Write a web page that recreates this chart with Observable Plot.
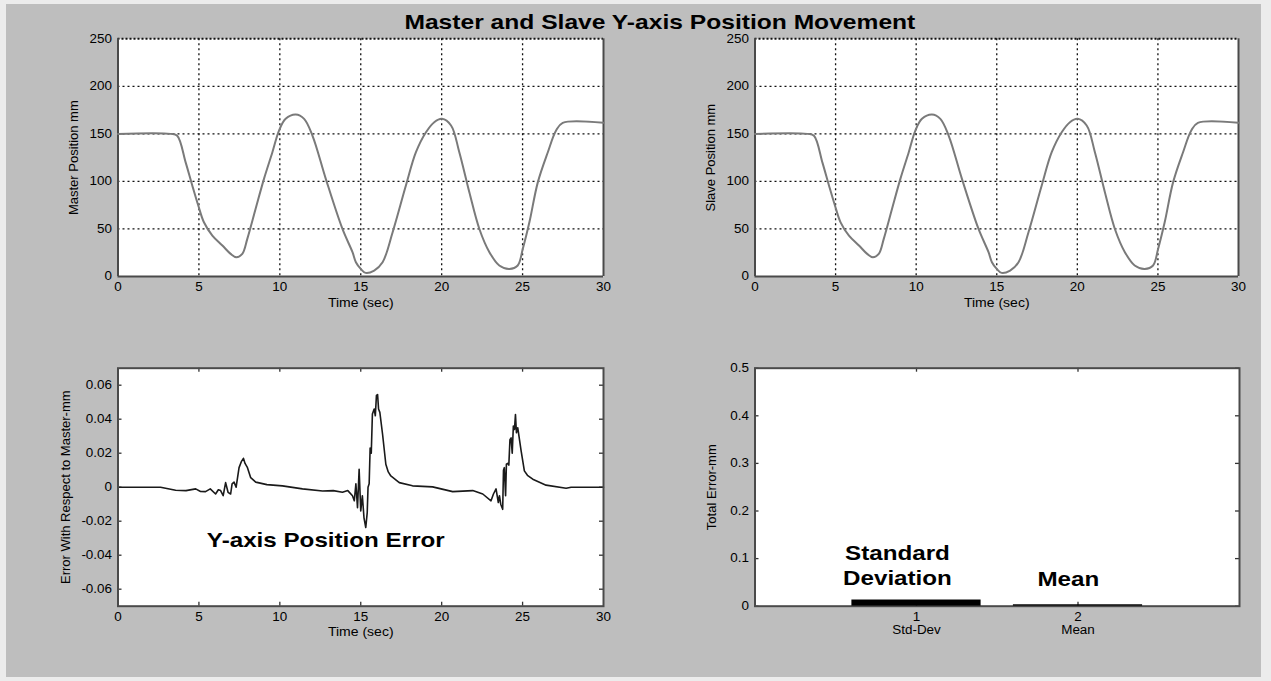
<!DOCTYPE html>
<html>
<head>
<meta charset="utf-8">
<script src="https://cdn.jsdelivr.net/npm/d3@7"></script>
<script src="https://cdn.jsdelivr.net/npm/@observablehq/plot@0.6"></script>
<style>
  html, body { margin: 0; padding: 0; background: #ececec; }
  #page { position: relative; width: 1271px; height: 681px; background: #ececec; overflow: hidden;
          font-family: "Liberation Sans", Arial, Helvetica, sans-serif; }
  #panel { position: absolute; left: 6px; top: 4px; width: 1255px; height: 673px; background: #bebebe; }
  .cell { position: absolute; }
  #title { position: absolute; left: 160px; width: 1000px; top: 12px; text-align: center;
           font-weight: bold; font-size: 20.5px; line-height: 20.5px; color: #000; }
  #title span { display: inline-block; transform: scaleX(1.2); transform-origin: center; }
</style>
</head>
<body>
<div id="page">
  <div id="panel"></div>
  <div id="title"><span>Master and Slave Y-axis Position Movement</span></div>
  <div class="cell" id="tl" style="left:0px;top:0px;width:625px;height:320px"></div>
  <div class="cell" id="tr" style="left:630px;top:0px;width:630px;height:320px"></div>
  <div class="cell" id="bl" style="left:0px;top:330px;width:625px;height:346px"></div>
  <div class="cell" id="br" style="left:630px;top:330px;width:630px;height:346px"></div>
</div>
<script>
// ---------------- data ----------------
const timeTicks = [0, 5, 10, 15, 20, 25, 30];
const posTicks = [0, 50, 100, 150, 200, 250];
const errTicks = [-0.06, -0.04, -0.02, 0, 0.02, 0.04, 0.06];
const totalTicks = [0, 0.1, 0.2, 0.3, 0.4, 0.5];

const timePos = [0, 3.25, 3.66, 4.18, 4.59, 4.96, 5.31, 5.83, 6.45, 6.96, 7.31, 7.68, 7.99, 8.5, 9.02, 9.54, 9.95, 10.36, 10.98, 11.5, 12.02, 12.84, 13.87, 14.49, 14.7, 15.0, 15.3, 15.83, 16.35, 16.97, 17.79, 18.41, 19.03, 19.54, 20.02, 20.58, 21.09, 21.71, 22.33, 22.95, 23.56, 24.18, 24.7, 25.01, 25.42, 25.94, 26.56, 27.07, 27.48, 30];
const masterPos = [150, 150, 148, 120, 95.7, 74.7, 57, 43, 32.6, 23.8, 20.3, 23.8, 39.6, 71, 102.7, 130.7, 153.5, 165.8, 170.3, 165.8, 148, 102.7, 50, 25.6, 15, 8, 3.8, 6.3, 15, 46.6, 95.7, 130.7, 151.7, 162.3, 165.8, 158.8, 130.7, 88.6, 50, 25.6, 11.6, 8, 11.6, 29, 57, 99, 130.7, 153.5, 161.6, 161.6];
const slavePos = [150, 150, 148, 120, 95.7, 74.7, 57, 43, 32.6, 23.8, 20.3, 23.8, 39.6, 71, 102.7, 130.7, 153.5, 165.8, 170.3, 165.8, 148, 102.7, 50, 25.6, 15, 8, 3.8, 6.3, 15, 46.6, 95.7, 130.7, 151.7, 162.3, 165.8, 158.8, 130.7, 88.6, 50, 25.6, 11.6, 8, 11.6, 29, 57, 99, 130.7, 153.5, 161.6, 161.6];

const timeErr = [0, 2.63, 3.56, 4.2, 4.8, 5.1, 5.41, 5.7, 6.03, 6.2, 6.34, 6.5, 6.65, 6.8, 6.96, 7.05, 7.17, 7.3, 7.48, 7.62, 7.75, 7.85, 8.0, 8.2, 8.51, 9.2, 10.16, 11.4, 12.64, 13.3, 13.87, 14.2, 14.49, 14.6, 14.7, 14.8, 14.9, 15.0, 15.1, 15.2, 15.31, 15.4, 15.45, 15.52, 15.58, 15.65, 15.72, 15.83, 15.9, 15.97, 16.04, 16.1, 16.18, 16.35, 16.55, 16.7, 16.86, 17.38, 18.2, 19.44, 20.68, 21.92, 22.54, 23.05, 23.2, 23.36, 23.5, 23.57, 23.65, 23.77, 23.82, 23.87, 23.95, 24.0, 24.08, 24.15, 24.22, 24.29, 24.36, 24.43, 24.5, 24.56, 24.62, 24.7, 24.91, 25.11, 25.3, 25.63, 26.45, 27.69, 28, 30];
const errVal = [0, 0, -0.0018, -0.002, -0.001, -0.0025, -0.0026, -0.001, -0.004, -0.0015, -0.002, -0.005, 0.0027, -0.003, -0.004, 0.002, 0.003, 0.0, 0.0115, 0.015, 0.017, 0.014, 0.0115, 0.0056, 0.003, 0.0015, 0.0008, -0.001, -0.0022, -0.002, -0.003, -0.002, -0.005, -0.008, 0.002, -0.012, 0.0105, -0.014, -0.005, -0.018, -0.0237, -0.015, 0, 0.002, 0.023, 0.02, 0.043, 0.046, 0.042, 0.054, 0.0545, 0.046, 0.044, 0.031, 0.0135, 0.009, 0.0066, 0.0027, 0.0008, 0.0002, -0.0026, -0.002, -0.004, -0.008, -0.004, -0.001, -0.009, -0.005, -0.01, -0.013, 0.01, 0.0115, -0.005, 0.0135, 0.014, 0.013, 0.028, 0.029, 0.02, 0.036, 0.034, 0.0428, 0.032, 0.035, 0.0213, 0.0096, 0.007, 0.0047, 0.0012, -0.0006, 0, 0];

const barPos = [1, 2];
const barNames = ["Std-Dev", "Mean"];
const barValues = [0.013, 0.003];
const barNotes = ["Standard\nDeviation", "Mean"];
const barNoteX = [0.882, 1.94];
const barNoteY = [0.0876, 0.059];
const errNote = ["Y-axis Position Error"];
const errNoteX = [12.84];
const errNoteY = [-0.0315];

// ---------------- helpers ----------------
const FONT = "Liberation Sans, Arial, Helvetica, sans-serif";
const style = {background: "transparent", overflow: "visible", fontFamily: FONT, color: "#000"};
const fmtErr = d => d === 0 ? "0" : d.toFixed(2).replace("\u2212", "-");

function positionPlot(series, ylabel, w, ml, mr) {
  const data = timePos.map((t, i) => ({t, v: series[i]}));
  return Plot.plot({
    width: w, height: 320,
    marginLeft: ml, marginRight: mr, marginTop: 38.3, marginBottom: 44,
    style,
    x: {domain: [0, 30]},
    y: {domain: [0, 250]},
    marks: [
      Plot.frame({fill: "white", stroke: null}),
      Plot.ruleX(timeTicks.slice(1, -1), {stroke: "#111", strokeWidth: 1.3, strokeDasharray: "2,3"}),
      Plot.ruleY(posTicks.slice(1, -1), {stroke: "#111", strokeWidth: 1.3, strokeDasharray: "2,3"}),
      Plot.ruleY([250], {stroke: "#111", strokeWidth: 2, strokeDasharray: "2,2"}),
      Plot.ruleX([0, 30], {stroke: "#4a4a4a", strokeWidth: 2}),
      Plot.ruleY([0], {stroke: "#4a4a4a", strokeWidth: 2}),
      Plot.line(data, {x: "t", y: "v", stroke: "#7a7a7a", strokeWidth: 2, curve: "catmull-rom"}),
      Plot.axisX(timeTicks, {anchor: "bottom", tickSize: 0, tickPadding: 6, fontSize: 12, label: null, tickFormat: d => String(d)}),
      Plot.axisY(posTicks, {anchor: "left", tickSize: 0, tickPadding: 6, fontSize: 12, label: null, tickFormat: d => String(d)}),
      Plot.text(["Time (sec)"], {text: d => d, frameAnchor: "bottom", dy: 30, fontSize: 12.5}),
      Plot.text([ylabel], {text: d => d, frameAnchor: "left", textAnchor: "middle", rotate: -90, dx: -44, fontSize: 13})
    ]
  });
}

function errorPlot() {
  const data = timeErr.map((t, i) => ({t, v: errVal[i]}));
  const H = 346, mt = 37.7, mb = 70.3, ml = 117.5, mr = 22, W = 625;
  const fh = H - mt - mb, fw = W - ml - mr;
  return Plot.plot({
    width: W, height: H,
    marginLeft: ml, marginRight: mr, marginTop: mt, marginBottom: mb,
    style,
    x: {domain: [0, 30]},
    y: {domain: [-0.07, 0.07]},
    marks: [
      Plot.frame({fill: "white", stroke: null}),
      Plot.tickX(timeTicks.slice(1, -1), {x: d => d, insetTop: fh - 4, stroke: "#333", strokeWidth: 1.3}),
      Plot.tickX(timeTicks.slice(1, -1), {x: d => d, insetBottom: fh - 4, stroke: "#333", strokeWidth: 1.3}),
      Plot.tickY(errTicks, {y: d => d, insetRight: fw - 4, stroke: "#333", strokeWidth: 1.3}),
      Plot.tickY(errTicks, {y: d => d, insetLeft: fw - 4, stroke: "#333", strokeWidth: 1.3}),
      Plot.line(data, {x: "t", y: "v", stroke: "#1a1a1a", strokeWidth: 1.6}),
      Plot.frame({stroke: "#4a4a4a", strokeWidth: 2}),
      Plot.axisX(timeTicks, {anchor: "bottom", tickSize: 0, tickPadding: 6, fontSize: 12, label: null, tickFormat: d => String(d)}),
      Plot.axisY(errTicks, {anchor: "left", tickSize: 0, tickPadding: 6, fontSize: 12, label: null, tickFormat: fmtErr}),
      Plot.text(errNote, {x: (d, i) => errNoteX[i], y: (d, i) => errNoteY[i], text: d => d, fontWeight: "bold", fontSize: 20.5}),
      Plot.text(["Time (sec)"], {text: d => d, frameAnchor: "bottom", dy: 29.5, fontSize: 12.5}),
      Plot.text(["Error With Respect to Master-mm"], {text: d => d, frameAnchor: "left", textAnchor: "middle", rotate: -90, dx: -52.5, fontSize: 13})
    ]
  });
}

function barPlot() {
  const data = barPos.map((p, i) => ({p, v: barValues[i], name: barNames[i]}));
  const H = 346, mt = 37.7, mb = 70.3, ml = 124.5, mr = 21, W = 630;
  const fh = H - mt - mb, fw = W - ml - mr;
  return Plot.plot({
    width: W, height: H,
    marginLeft: ml, marginRight: mr, marginTop: mt, marginBottom: mb,
    style,
    x: {domain: [0, 3]},
    y: {domain: [0, 0.5]},
    marks: [
      Plot.frame({fill: "white", stroke: null}),
      Plot.tickX(barPos, {x: d => d, insetTop: fh - 4, stroke: "#333", strokeWidth: 1.3}),
      Plot.tickX(barPos, {x: d => d, insetBottom: fh - 4, stroke: "#333", strokeWidth: 1.3}),
      Plot.tickY(totalTicks, {y: d => d, insetRight: fw - 4, stroke: "#333", strokeWidth: 1.3}),
      Plot.tickY(totalTicks, {y: d => d, insetLeft: fw - 4, stroke: "#333", strokeWidth: 1.3}),
      Plot.frame({stroke: "#4a4a4a", strokeWidth: 2}),
      Plot.rectY(data, {x1: d => d.p - 0.4, x2: d => d.p + 0.4, y1: 0, y2: "v", fill: "#000"}),
      Plot.axisX(barPos, {anchor: "bottom", tickSize: 0, tickPadding: 6, fontSize: 12, label: null, tickFormat: d => String(d)}),
      Plot.axisY(totalTicks, {anchor: "left", tickSize: 0, tickPadding: 6, fontSize: 12, label: null, tickFormat: d => d === 0 ? "0" : String(d)}),
      Plot.text(data, {x: "p", text: "name", frameAnchor: "bottom", dy: 28, fontSize: 12}),
      Plot.text(barNotes, {x: (d, i) => barNoteX[i], y: (d, i) => barNoteY[i], text: d => d, fontWeight: "bold", fontSize: 20.5, lineHeight: 1.22}),
      Plot.text(["Total Error-mm"], {text: d => d, frameAnchor: "left", textAnchor: "middle", rotate: -90, dx: -43, fontSize: 13})
    ]
  });
}

document.getElementById("tl").append(positionPlot(masterPos, "Master Position mm", 625, 117.5, 22));
document.getElementById("tr").append(positionPlot(slavePos, "Slave Position mm", 630, 124.5, 22));
document.getElementById("bl").append(errorPlot());
document.getElementById("br").append(barPlot());

// Horizontal stretch of the (non-rotated) texts, like the wide-rendered original
document.querySelectorAll("#page svg text").forEach(t => {
  const tr = t.getAttribute("transform") || "";
  if (tr.includes("rotate")) return;
  const fs = parseFloat(getComputedStyle(t).fontSize);
  const k = fs >= 18 ? 1.18 : 1.12;
  const spans = t.querySelectorAll("tspan");
  const targets = spans.length ? Array.from(spans) : [t];
  targets.forEach(el => {
    const len = el.getComputedTextLength();
    if (len > 0) {
      el.setAttribute("textLength", (len * k).toFixed(2));
      el.setAttribute("lengthAdjust", "spacingAndGlyphs");
    }
  });
});
</script>
</body>
</html>
